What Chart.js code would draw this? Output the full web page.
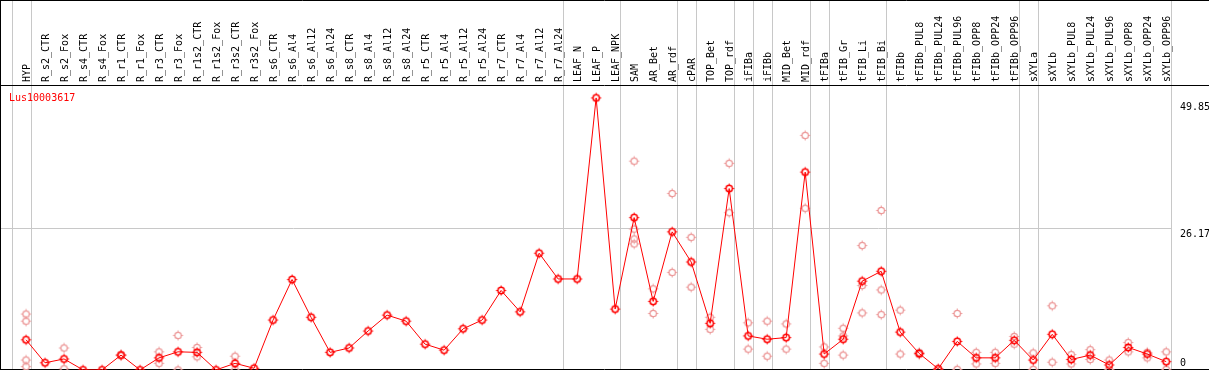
<!DOCTYPE html>
<html>
<head>
<meta charset="utf-8">
<script src="https://cdn.jsdelivr.net/npm/chart.js@4/dist/chart.umd.min.js"></script>
<style>
  html, body { margin: 0; padding: 0; background: #fff; overflow: hidden; }
  canvas { display: block; }
</style>
</head>
<body>
<canvas id="expr-chart" width="1209" height="372"></canvas>
<script>
const geneId = "Lus10003617";

const categories = [
  "HYP", "R_s2_CTR", "R_s2_Fox", "R_s4_CTR", "R_s4_Fox", "R_r1_CTR", "R_r1_Fox",
  "R_r3_CTR", "R_r3_Fox", "R_r1s2_CTR", "R_r1s2_Fox", "R_r3s2_CTR", "R_r3s2_Fox",
  "R_s6_CTR", "R_s6_Al4", "R_s6_Al12", "R_s6_Al24", "R_s8_CTR", "R_s8_Al4",
  "R_s8_Al12", "R_s8_Al24", "R_r5_CTR", "R_r5_Al4", "R_r5_Al12", "R_r5_Al24",
  "R_r7_CTR", "R_r7_Al4", "R_r7_Al12", "R_r7_Al24", "LEAF_N", "LEAF_P", "LEAF_NPK",
  "SAM", "AR_Bet", "AR_rdf", "cPAR", "TOP_Bet", "TOP_rdf", "iFIBa", "iFIBb",
  "MID_Bet", "MID_rdf", "tFIBa", "tFIB_Gr", "tFIB_Li", "tFIB_Bi", "tFIBb",
  "tFIBb_PUL8", "tFIBb_PUL24", "tFIBb_PUL96", "tFIBb_OPP8", "tFIBb_OPP24", "tFIBb_OPP96",
  "sXYLa", "sXYLb", "sXYLb_PUL8", "sXYLb_PUL24", "sXYLb_PUL96", "sXYLb_OPP8",
  "sXYLb_OPP24", "sXYLb_OPP96"
];

const meanValues = [
  5.7, 1.5, 2.2, 0.2, 0.2, 2.9, 0.2, 2.4, 3.5, 3.4, 0.2, 1.4, 0.5,
  9.3, 16.7, 9.8, 3.4, 4.2, 7.3, 10.2, 9.1, 4.9, 3.8, 7.7, 9.3,
  14.7, 10.8, 21.5, 16.8, 16.8, 49.85, 11.3,
  28.0, 12.7, 25.4, 19.9, 8.7, 33.3, 6.4, 5.8, 6.1, 36.3,
  3.1, 5.8, 16.4, 18.2, 7.1, 3.2, 0.4, 5.4, 2.4, 2.4, 5.6,
  2.0, 6.7, 2.1, 2.9, 1.1, 4.3, 3.1, 1.7
];

// replicate values per category (same order as categories)
const replicateValues = [
  [10.4, 9.1, 2.0, 0.8], [], [4.2, 0.4], [], [], [3.0, 2.8], [],
  [3.5, 1.4], [6.5, 0.2], [4.3, 2.6], [], [2.7, 0.2], [],
  [], [], [], [], [], [], [], [], [], [], [], [],
  [], [], [], [], [], [], [],
  [38.3, 25.9, 24.1, 23.2], [15.0, 10.5], [32.4, 18.0], [24.4, 15.3],
  [9.8, 7.6], [37.9, 28.9], [8.8, 4.0], [9.1, 2.7], [8.6, 4.0], [43.0, 29.7],
  [4.4, 1.4], [7.8, 6.4, 2.9], [22.9, 15.6, 10.6], [29.3, 14.8, 10.3],
  [11.1, 3.1], [3.4, 3.0], [0.2], [10.5, 0.3], [3.4, 1.3], [3.4, 1.4], [6.3, 4.9],
  [3.3, 0.3], [11.9, 1.6], [3.0, 1.3], [3.9, 2.1], [2.0, 0.3], [5.2, 3.5],
  [3.4, 2.4], [3.5, 0.3]
];

// index of the last category in each group (a separator follows it)
const groupEnds = [-1, 0, 28, 31, 34, 35, 37, 38, 39, 41, 42, 45, 52, 53, 60];

const yTicks = [0, 26.17, 49.85];

function makeMarker(color, lw) {
  const c = document.createElement("canvas");
  c.width = 15;
  c.height = 15;
  const g = c.getContext("2d");
  g.strokeStyle = color;
  g.fillStyle = color;
  g.lineWidth = lw;
  g.beginPath();
  g.arc(7.5, 7.5, 3.2, 0, Math.PI * 2);
  g.stroke();
  // small ticks just outside the ring
  g.fillRect(7, 2.5, 1, 1.5);
  g.fillRect(7, 11, 1, 1.5);
  g.fillRect(2.5, 7, 1.5, 1);
  g.fillRect(11, 7, 1.5, 1);
  return c;
}

const redMarker = makeMarker("#ff0000", 1.5);
const pinkMarker = makeMarker("#ec9898", 1.3);

const meanPoints = meanValues.map((v, i) => ({ x: i, y: v }));
const repPoints = [];
replicateValues.forEach((reps, i) => {
  reps.forEach((v) => repPoints.push({ x: i, y: v }));
});

const FONT = '10px "DejaVu Sans Mono", "Liberation Mono", monospace';

const frame = {
  id: "frame",
  beforeDatasetsDraw(chart) {
    const ctx = chart.ctx;
    const xs = chart.scales.x;
    const ys = chart.scales.y;
    const area = chart.chartArea;
    ctx.save();
    ctx.strokeStyle = "#c8c8c8";
    ctx.lineWidth = 1;
    ctx.beginPath();
    groupEnds.forEach((i) => {
      const px = Math.round(xs.getPixelForValue(i + 0.25)) + 0.5;
      ctx.moveTo(px, 0);
      ctx.lineTo(px, chart.height);
    });
    const gy = Math.round(ys.getPixelForValue(yTicks[1])) + 0.5;
    ctx.moveTo(area.left, gy);
    ctx.lineTo(area.right, gy);
    ctx.stroke();

    ctx.strokeStyle = "#000";
    ctx.beginPath();
    ctx.moveTo(0, 0.5); ctx.lineTo(chart.width, 0.5);
    ctx.moveTo(0, area.top + 0.5); ctx.lineTo(chart.width, area.top + 0.5);
    ctx.moveTo(0, 369.5); ctx.lineTo(chart.width, 369.5);
    ctx.moveTo(0.5, 0); ctx.lineTo(0.5, chart.height);
    ctx.stroke();
    ctx.restore();
  },
  afterDraw(chart) {
    const ctx = chart.ctx;
    const xs = chart.scales.x;
    const ys = chart.scales.y;
    const area = chart.chartArea;
    ctx.save();
    ctx.font = FONT;
    ctx.fillStyle = "#000";
    ctx.textAlign = "left";
    ctx.textBaseline = "alphabetic";
    categories.forEach((name, i) => {
      const px = xs.getPixelForValue(i);
      ctx.save();
      ctx.translate(Math.round(px) + 4, area.top - 3);
      ctx.rotate(-Math.PI / 2);
      ctx.fillText(name, 0, 0);
      ctx.restore();
    });

    // y labels on the right
    const shifts = [-5, 9, 12];
    yTicks.forEach((v, k) => {
      ctx.fillText(String(v), area.right + 9, Math.round(ys.getPixelForValue(v) + shifts[k]));
    });

    ctx.fillStyle = "#ff0000";
    ctx.fillText(geneId, 9, area.top + 16);
    ctx.restore();
  }
};

const chart = new Chart(document.getElementById("expr-chart"), {
  type: "line",
  data: {
    datasets: [
      {
        label: geneId,
        data: meanPoints,
        borderColor: "#ff0000",
        backgroundColor: "#ff0000",
        borderWidth: 1,
        pointStyle: redMarker,
        pointRadius: 4,
        tension: 0,
        clip: false,
      },
      {
        label: "replicates",
        data: repPoints,
        showLine: false,
        borderColor: "#ec9898",
        pointStyle: pinkMarker,
        pointRadius: 4,
        clip: false,
      },
    ],
  },
  options: {
    responsive: false,
    animation: false,
    events: [],
    layout: { autoPadding: false, padding: { left: 1, right: 38, top: 85, bottom: 1 } },
    plugins: { legend: { display: false }, tooltip: { enabled: false } },
    scales: {
      x: { type: "linear", min: -1.316, max: 60.25, display: false },
      y: { type: "linear", min: 0, max: 52.2, display: false },
    },
  },
  plugins: [frame],
});
</script>
</body>
</html>
